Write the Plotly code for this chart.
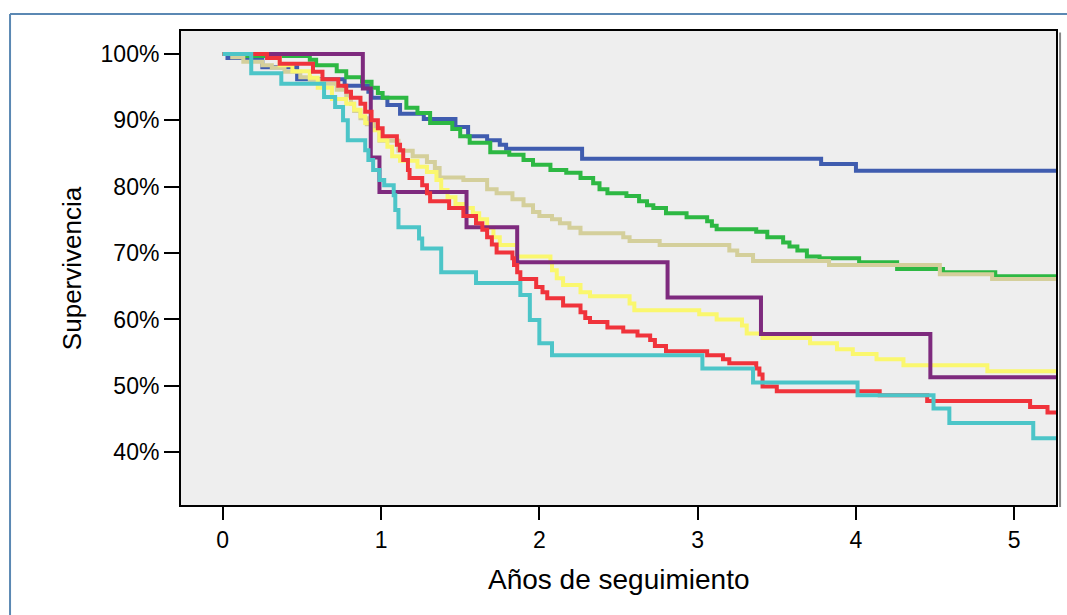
import plotly.graph_objects as go

# Kaplan-Meier survival estimates (years of follow-up, survival %) for each group
END_T = 5.3

blue_t = [0, 0.03, 0.25, 0.47, 0.77, 0.92, 0.94, 1.04, 1.12, 1.27, 1.47, 1.55, 1.67, 1.75, 1.79, 2.27, 3.78, 4.00]
blue_s = [100, 99.4, 98.0, 96.2, 95.2, 94.3, 93.4, 92.3, 91.0, 90.2, 89.0, 87.6, 87.0, 86.3, 85.7, 84.2, 83.4, 82.4]

green_t = [0, 0.15, 0.55, 0.59, 0.72, 0.78, 0.88, 0.94, 0.98, 1.01, 1.16, 1.23, 1.31, 1.45, 1.50, 1.56,
           1.69, 1.81, 1.90, 1.96, 2.07, 2.17, 2.26, 2.34, 2.38, 2.43, 2.55, 2.63, 2.68, 2.72, 2.80,
           2.93, 3.06, 3.09, 3.12, 3.37, 3.44, 3.54, 3.58, 3.63, 3.69, 3.77, 4.02, 4.26, 4.55, 4.88]
green_s = [100, 99.7, 99.1, 98.3, 97.4, 96.5, 95.8, 94.9, 94.1, 93.4, 91.9, 91.1, 89.6, 88.7, 87.6, 86.6,
           85.2, 84.8, 84.0, 83.3, 82.5, 82.1, 81.3, 80.5, 79.6, 79.0, 78.6, 77.8, 77.2, 76.8, 76.0,
           75.4, 74.8, 74.1, 73.6, 73.2, 72.4, 71.6, 71.0, 70.4, 69.5, 69.2, 68.6, 67.6, 67.1, 66.5]

tan_t = [0, 0.06, 0.13, 0.25, 0.31, 0.39, 0.49, 0.55, 0.63, 0.72, 0.78, 0.81, 0.83, 0.87, 0.91, 0.96,
         0.99, 1.11, 1.20, 1.29, 1.34, 1.37, 1.52, 1.67, 1.73, 1.83, 1.90, 1.96, 2.00, 2.08, 2.13,
         2.19, 2.26, 2.53, 2.57, 2.76, 3.20, 3.25, 3.35, 3.83, 4.53, 4.86]
tan_s = [100, 99.5, 98.8, 98.3, 97.9, 97.3, 96.5, 96.1, 95.5, 94.6, 93.7, 92.5, 91.4, 90.3, 89.4, 88.7,
         86.9, 85.4, 84.6, 83.7, 82.8, 81.4, 81.0, 79.6, 79.0, 78.1, 77.2, 76.2, 75.6, 75.1, 74.5,
         73.8, 73.0, 72.4, 71.8, 71.2, 70.4, 69.7, 68.8, 68.2, 66.8, 66.1]

yellow_t = [0, 0.30, 0.36, 0.44, 0.55, 0.60, 0.69, 0.78, 0.83, 0.87, 0.90, 0.94, 0.99, 1.04, 1.07, 1.12,
            1.23, 1.29, 1.35, 1.38, 1.42, 1.47, 1.52, 1.58, 1.62, 1.67, 1.71, 1.75, 1.86, 2.07, 2.08,
            2.11, 2.15, 2.26, 2.32, 2.57, 2.60, 3.01, 3.12, 3.28, 3.31, 3.41, 3.71, 3.88, 3.98, 4.13,
            4.30, 4.83]
yellow_s = [100, 99.5, 98.3, 97.4, 96.4, 94.9, 93.2, 92.5, 91.6, 90.6, 89.6, 88.5, 87.0, 86.0, 84.6, 83.9,
            83.0, 82.2, 81.0, 79.5, 78.4, 77.4, 76.8, 76.0, 75.1, 73.8, 72.4, 71.2, 69.5, 68.6, 67.4,
            66.2, 65.2, 64.1, 63.5, 62.4, 61.4, 60.8, 60.0, 59.1, 57.9, 57.2, 56.4, 55.5, 54.8, 54.0,
            53.1, 52.2]

purple_t = [0, 0.885, 0.935, 0.99, 1.54, 1.86, 2.81, 3.40, 4.47]
purple_s = [100, 94.8, 84.4, 79.2, 73.9, 68.6, 63.3, 57.8, 51.3]

red_t = [0, 0.28, 0.36, 0.57, 0.63, 0.73, 0.78, 0.81, 0.87, 0.90, 0.94, 0.98, 1.01, 1.10, 1.12, 1.14,
         1.17, 1.18, 1.26, 1.29, 1.31, 1.43, 1.52, 1.60, 1.64, 1.67, 1.70, 1.73, 1.83, 1.84, 1.86,
         1.88, 1.98, 2.02, 2.05, 2.15, 2.26, 2.29, 2.32, 2.43, 2.53, 2.62, 2.70, 2.73, 2.80, 3.06,
         3.16, 3.20, 3.37, 3.39, 3.41, 3.50, 4.15, 4.45, 5.10, 5.21]
red_s = [100, 99.4, 98.5, 97.3, 96.2, 95.2, 94.3, 93.4, 92.5, 91.3, 90.0, 88.8, 87.6, 86.3, 85.5, 84.0,
         82.5, 81.3, 80.2, 79.0, 77.8, 76.8, 75.6, 74.5, 73.5, 72.4, 71.3, 70.1, 69.2, 68.2, 67.1,
         66.1, 64.9, 64.1, 63.2, 62.1, 61.1, 60.2, 59.6, 58.8, 58.2, 57.6, 56.9, 56.0, 55.2, 54.6,
         54.0, 53.4, 52.6, 51.7, 49.9, 49.2, 48.6, 47.7, 46.8, 46.0]

cyan_t = [0, 0.18, 0.37, 0.64, 0.71, 0.76, 0.79, 0.90, 0.92, 0.95, 0.99, 1.02, 1.08, 1.09, 1.11, 1.24,
          1.26, 1.38, 1.60, 1.88, 1.94, 2.00, 2.08, 3.03, 3.35, 4.01, 4.49, 4.59, 5.12]
cyan_s = [100, 97.1, 95.5, 93.5, 92.0, 90.0, 87.0, 85.5, 84.0, 82.5, 81.0, 80.2, 78.7, 76.5, 73.9, 72.2,
          70.7, 67.1, 65.5, 63.7, 59.9, 56.4, 54.6, 52.6, 50.5, 48.6, 46.6, 44.4, 42.1]

# drawing order: first listed ends up underneath
series = [
    (blue_t, blue_s, "#3F5CAF"),
    (green_t, green_s, "#2DB843"),
    (tan_t, tan_s, "#D4CF9B"),
    (yellow_t, yellow_s, "#FAF76E"),
    (purple_t, purple_s, "#7E2A7E"),
    (red_t, red_s, "#F0333B"),
    (cyan_t, cyan_s, "#4CC5C8"),
]

y_ticks = [40, 50, 60, 70, 80, 90, 100]
y_tick_text = ["40%", "50%", "60%", "70%", "80%", "90%", "100%"]
x_ticks = [0, 1, 2, 3, 4, 5]

FONT = "Arial, 'Liberation Sans', sans-serif"

fig = go.Figure()
for t, s, color in series:
    fig.add_trace(go.Scatter(
        x=t + [END_T], y=s + [s[-1]],
        mode="lines", line=dict(color=color, width=4, shape="hv"),
        showlegend=False, hoverinfo="skip",
    ))

fig.update_layout(
    width=1067, height=615, autosize=False,
    margin=dict(l=180, r=10, t=30, b=109),
    paper_bgcolor="white", plot_bgcolor="#EEEEEE",
    font=dict(family=FONT, color="black"),
    showlegend=False,
)
fig.update_xaxes(
    range=[-0.27, 5.27], tickvals=x_ticks, showgrid=False, zeroline=False,
    ticks="outside", ticklen=13, tickwidth=2, tickcolor="black",
    tickfont=dict(family=FONT, size=23, color="black"),
    showline=False,
)
fig.update_yaxes(
    range=[31.9, 103.6], tickvals=y_ticks, ticktext=y_tick_text, showgrid=False, zeroline=False,
    ticks="outside", ticklen=15, tickwidth=2, tickcolor="black",
    tickfont=dict(family=FONT, size=23, color="black"),
    showline=False,
)

# plot frame with a soft shadow on the right
fig.add_shape(type="rect", xref="paper", yref="paper", x0=0, x1=1, y0=0, y1=1,
              line=dict(color="black", width=2), layer="above")
fig.add_shape(type="line", xref="paper", yref="paper", x0=1.0035, x1=1.0035, y0=-0.002, y1=0.995,
              line=dict(color="#888888", width=2), layer="above")

# outer panel border (left and top edges)
fig.add_shape(type="line", xref="paper", yref="paper", x0=-0.1938, x1=-0.1938, y0=-0.25, y1=1.0336,
              line=dict(color="#5B88B3", width=2))
fig.add_shape(type="line", xref="paper", yref="paper", x0=-0.1938, x1=1.0, y0=1.0336, y1=1.0336,
              line=dict(color="#5B88B3", width=2))
fig.add_shape(type="line", xref="paper", yref="paper", x0=1.0, x1=1.013, y0=1.0336, y1=1.0336,
              line=dict(color="#5B88B3", width=2))

fig.add_annotation(text="Años de seguimiento", xref="paper", yref="paper", x=0.5, y=-0.155,
                   xanchor="center", yanchor="middle", showarrow=False,
                   font=dict(family=FONT, size=28, color="black"))
fig.add_annotation(text="Supervivencia", xref="paper", yref="paper", x=-0.123, y=0.5,
                   xanchor="center", yanchor="middle", textangle=-90, showarrow=False,
                   font=dict(family=FONT, size=26, color="black"))

fig.write_html("out.html")
